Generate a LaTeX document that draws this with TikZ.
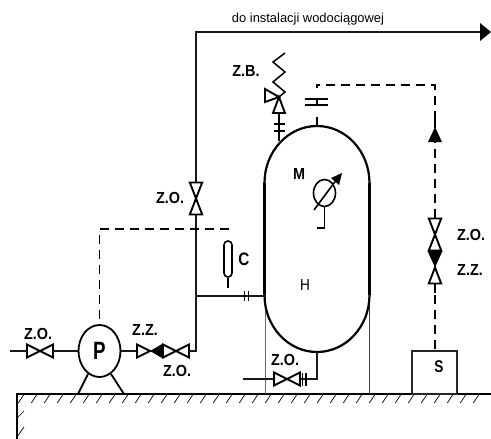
\documentclass[tikz,border=0pt]{standalone}
\usetikzlibrary{shapes.geometric}
\usepackage{graphicx}
\usepackage{fontspec}
\setmainfont{Liberation Sans}
\newcommand{\tg}[1]{\scalebox{.9}[1]{#1}}
\begin{document}
\begin{tikzpicture}[x=1pt,y=-1pt,
  pipe/.style={line width=1.3pt,black!90},
  thinline/.style={line width=0.8pt,black!75},
  dashline/.style={line width=1.5pt,dash pattern=on 9pt off 6pt},
  symbol/.style={line width=1.9pt,line join=miter},
  tag/.style={font=\fontsize{16}{16}\selectfont\bfseries,inner sep=0pt},
  bowtie/.pic={\draw[symbol] (-13,-6.5)--(13,6.5)--(13,-6.5)--(-13,6.5)--cycle;},
  vbowtie/.pic={\draw[symbol] (-6.2,-16)--(6.2,16)--(-6.2,16)--(6.2,-16)--cycle;},
  halfblack/.pic={\fill (0,0)--(13,-7.5)--(13,7.5)--cycle;\draw[symbol] (0,0)--(-13,-6.5)--(-13,6.5)--cycle;},
  vhalfblack/.pic={\fill (0,0)--(-7.5,-16.5)--(7.5,-16.5)--cycle;\draw[symbol] (0,0)--(-6.2,16)--(6.2,16)--cycle;},
  ticks/.pic={\draw[line width=1.2pt] (-2.3,-5)--(-2.3,5) (2.3,-5)--(2.3,5);}
]
\useasboundingbox (0,0) rectangle (491,439);
% ground
\coordinate (gl) at (17,394); \coordinate (gr) at (491,394); \coordinate (gb) at (17,439);
\draw[line width=1.4pt] (gb)--(gl)--(gr);
\foreach \k in {0,...,35} \draw[line width=0.7pt] (24.3+13*\k,394)--++(-6,9);
\draw[line width=0.7pt] (24,411)--(17,418) (24,427)--(17,437);
% tank
\coordinate (tL) at (264.5,296); \coordinate (tR) at (369.5,295);
\draw[thinline,black!60] (265,295)--(265,394);
\draw[thinline] (369.5,295)--(369.5,394);
\draw[line width=2.2pt] (264.5,183) arc[x radius=52.5,y radius=57,start angle=180,end angle=360];
\draw[line width=2.2pt] (264.5,295) arc[x radius=52.5,y radius=57,start angle=180,end angle=0];
\draw[line width=3pt] (264.5,183)--(264.5,295) (369.5,183)--(369.5,295);
\node[font=\fontsize{16}{16}\selectfont\bfseries,inner sep=0pt] (M) at (299,174) {\tg{M}};
\node[font=\fontsize{16}{16}\selectfont,inner sep=0pt] (H) at (305,285) {\scalebox{.85}[1]{H}};
% gauge
\node[draw,ellipse,line width=1.6pt,minimum width=22pt,minimum height=27pt,inner sep=0pt] (gauge) at (324.5,193) {};
\coordinate (gs) at (324.5,228); \coordinate (ge) at (317,228);
\draw[line width=1.6pt] (gauge.south)--(gs)--(ge);
\coordinate (ga) at (314,210); \coordinate (gc) at (337,179);
\draw[line width=1.6pt] (ga)--(gc);
\fill (342,173)--(331,178)--(339,185)--cycle;
% pump
\node[draw,ellipse,line width=1.8pt,minimum width=42pt,minimum height=52pt,inner sep=0pt,font=\fontsize{25}{25}\selectfont\bfseries] (P) at (99.5,351) {\scalebox{.75}[1]{P}};
\coordinate (pl1) at (88,374); \coordinate (pl2) at (78,394); \coordinate (pr1) at (111,374); \coordinate (pr2) at (124,394);
\draw[line width=1.8pt] (pl1)--(pl2) (pr1)--(pr2);
% suction
\pic (v1) at (40,351) {bowtie};
\coordinate (in) at (10,351); \coordinate (v1l) at (27,351); \coordinate (v1r) at (53,351);
\draw[pipe] (in)--(v1l) (v1r)--(P.west);
\node[tag] (t1) at (38,334) {\tg{Z.O.}};
% discharge
\coordinate (v2l) at (136,351); \coordinate (v3r) at (189,351); \coordinate (corner) at (196,351);
\coordinate (top) at (196,32); \coordinate (tip) at (481,32);
\draw[pipe] (P.east)--(v2l);
\pic (v2) at (150,351) {halfblack};
\pic (v3) at (176,351) {bowtie};
\node[tag] (t2) at (145,330) {\tg{Z.Z.}};
\node[tag] (t3) at (177,371) {\tg{Z.O.}};
\draw[pipe] (v3r)--(corner)--(top)--(tip);
\fill (480,23)--(491,32)--(480,41)--cycle;
\node[font=\fontsize{12.9}{14}\selectfont,inner sep=0pt] (ttop) at (308,19) {do instalacji wodociągowej};
% riser valve
\fill[white] (190,182) rectangle (203,215);
\pic (v4) at (196,198.5) {vbowtie};
\node[tag] (t4) at (170,198) {\tg{Z.O.}};
% branch to tank
\coordinate (bs) at (196,296);
\draw[pipe] (bs)--(tL);
\pic at (246.5,296) {ticks};
% control line from C to pump
\coordinate (d1) at (229,229); \coordinate (d2) at (P.north |- d1);
\draw[dashline] (d1)--(d2)--(P.north);
\node[draw,rounded corners=3.8pt,line width=1.6pt,minimum width=8pt,minimum height=36pt,inner sep=0pt] (C) at (228,259) {};
\coordinate (cs) at (228,288);
\draw[line width=1.6pt] (C.south)--(cs);
\node[font=\fontsize{18}{18}\selectfont\bfseries,inner sep=0pt] (tC) at (244,259) {\scalebox{.85}[1]{C}};
% drain
\coordinate (dr1) at (317,352); \coordinate (dr2) at (317,379); \coordinate (dr3) at (301,379); \coordinate (dr4) at (273,379); \coordinate (dr5) at (243,379);
\draw[pipe] (dr1)--(dr2)--(dr3) (dr4)--(dr5);
\pic at (287,379) {bowtie};
\draw[line width=1.2pt] (302.5,373)--(302.5,386) (306,373)--(306,386);
\node[tag] (t5) at (285,360) {\tg{Z.O.}};
% safety valve
\coordinate (s0) at (279,141); \coordinate (s1) at (279,113);
\draw[line width=1.6pt] (s0)--(s1);
\draw[line width=1.4pt] (274,124)--(285,124) (274,131)--(285,131);
\draw[symbol] (273,113)--(285,113)--(279,97)--cycle;
\draw[symbol] (265,89)--(265,102)--(279,97)--cycle;
\draw[line width=1.5pt] (279,97)--(285,92)--(273,82)--(285,72)--(273,62)--(285,53);
\node[tag] (t6) at (246,71) {\tg{Z.B.}};
% S box and signal line
\node[draw,line width=1.3pt,black!85,minimum width=45pt,minimum height=43pt,inner sep=0pt] (S) at (434.5,372.5) {};
\node[font=\fontsize{17}{17}\selectfont\bfseries,inner sep=0pt] (tS) at (439,367) {\scalebox{.8}[1]{S}};
\coordinate (e1) at (435,349); \coordinate (e2) at (435,293);
\draw[dashline] (e1)--(e2);
\draw[line width=1.5pt] (435,293)--(435,284);
\pic at (435,267.5) {vhalfblack};
\pic at (435,234.5) {vbowtie};
\coordinate (e3) at (435,218); \coordinate (e4) at (435,128); \coordinate (e5) at (435,85); \coordinate (e6) at (317,85); \coordinate (e7) at (317,99);
\draw[dashline] (e3)--(e4);
\fill (435,127)--(442,142)--(428,142)--cycle;
\draw[line width=1.5pt] (e4)--(435,118);
\draw[dashline] (435,120)--(e5)--(e6)--++(0,3);
\draw[line width=1.5pt] (305,99)--(328,99) (305,105)--(328,105) (e7)--(317,105) (317,117)--(317,126);
\node[tag] (t7) at (471,235) {\tg{Z.O.}};
\node[tag] (t8) at (470,270) {\tg{Z.Z.}};
\end{tikzpicture}
\end{document}
